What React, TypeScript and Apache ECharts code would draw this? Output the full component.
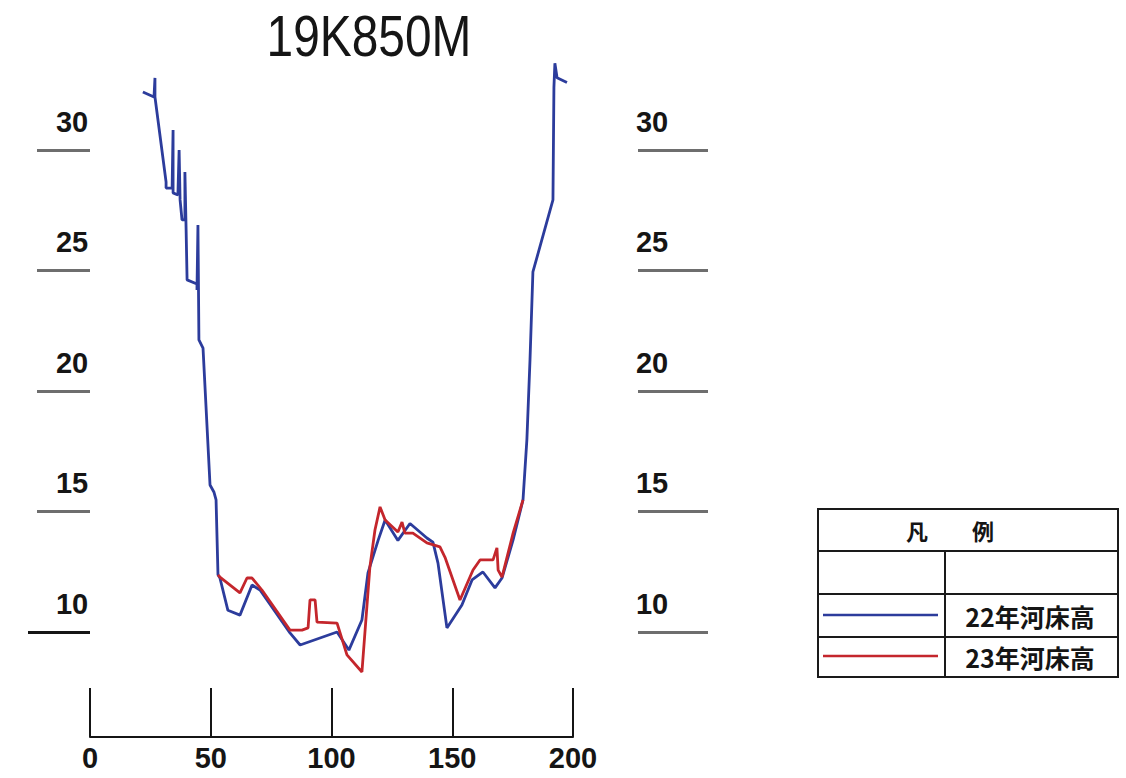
import React, { useEffect, useRef } from "react";
import * as echarts from "echarts";

// ---- data ----
const chartTitle = "19K850M";
const legendHeader = "凡　　例";
const seriesNames = ["22年河床高", "23年河床高"];
const yTickValues = [10, 15, 20, 25, 30];

// 22年河床高 (distance m, elevation m)
const blueX = [
  21.9, 26.5, 26.9, 26.9, 31.5, 31.5, 34.0, 34.4, 34.4, 36.4, 36.9, 37.3, 38.1, 39.3, 39.3, 39.8,
  40.2, 44.3, 44.3, 44.7, 45.1, 46.8, 49.7, 51.3, 52.2, 53.0, 53.8, 57.1, 62.1, 67.1, 70.4, 82.8,
  87.0, 102.3, 107.2, 112.6, 115.1, 119.3, 122.2, 127.5, 132.5, 139.5, 142.0, 144.1, 147.8, 154.0,
  158.2, 162.7, 167.7, 170.6, 175.2, 179.3, 180.9, 182.2, 183.4, 191.7, 192.1, 192.5, 193.4, 197.5,
];
const blueY = [
  32.41, 32.2, 32.99, 32.2, 28.67, 28.42, 28.42, 30.83, 28.22, 28.13, 30.0, 27.93, 27.1, 27.1, 29.09, 26.68,
  24.61, 24.44, 24.19, 26.89, 22.12, 21.78, 16.1, 15.81, 15.48, 12.37, 12.24, 10.9, 10.7, 11.95, 11.74, 9.96,
  9.46, 10.0, 9.25, 10.5, 12.45, 13.8, 14.65, 13.8, 14.5, 13.9, 13.73, 12.86, 10.17, 11.12,
  12.16, 12.49, 11.83, 12.24, 13.82, 15.48, 17.97, 21.3, 24.94, 27.93, 32.6, 33.6, 33.0, 32.8,
];

// 23年河床高
const redX = [
  53.0, 53.8, 62.1, 65.0, 67.1, 71.2, 82.8, 87.8, 90.3, 91.1, 93.2, 94.0, 102.3, 106.4, 112.6, 115.9,
  118.0, 120.1, 122.2, 127.5, 129.2, 130.4, 133.7, 139.5, 144.9, 147.0, 153.2, 158.6, 161.5, 166.9,
  168.5, 169.0, 170.6, 175.2, 179.3,
];
const redY = [
  12.37, 12.28, 11.62, 12.24, 12.24, 11.74, 10.08, 10.08, 10.17, 11.33, 11.33, 10.41, 10.37, 9.05, 8.34, 12.7,
  14.23, 15.19, 14.65, 14.15, 14.56, 14.1, 14.1, 13.7, 13.53, 13.1, 11.33, 12.57, 12.99, 12.99,
  13.49, 12.57, 12.28, 14.1, 15.48,
];

const BLUE = "#2c3c9c";
const RED = "#c4262c";
const SANS = "'Liberation Sans', Arial, sans-serif";
const CJK = "'Noto Sans CJK JP', 'Noto Sans CJK SC', sans-serif";

const zip = (xs: number[], ys: number[]) => xs.map((x, i) => [x, ys[i]]);

export default function App() {
  const ref = useRef<HTMLDivElement>(null);

  useEffect(() => {
    if (!ref.current) return;
    const chart = echarts.init(ref.current, null, { renderer: "svg" });

    const yLabelBase = {
      customValues: yTickValues,
      align: "center" as const,
      verticalAlign: "bottom" as const,
      padding: [0, 0, 14, 0],
      fontSize: 29,
      fontFamily: SANS,
      fontWeight: "bold" as const,
      color: "#151515",
    };

    const tableLeft = 818;
    const tableTop = 509;
    const tableW = 300;
    const tableH = 168;
    const rowBottoms = [551, 594, 637];
    const divX = 945;

    chart.setOption({
      animation: false,
      backgroundColor: "#ffffff",
      grid: [
        { left: 90, width: 483, top: 29.5, height: 723 },
        { left: 90, width: 483, top: 688, height: 49 },
      ],
      xAxis: [
        { gridIndex: 0, type: "value", min: 0, max: 200, show: false },
        {
          gridIndex: 1,
          type: "value",
          min: 0,
          max: 200,
          interval: 50,
          axisLine: { show: true, lineStyle: { color: "#151515", width: 2 } },
          axisTick: { show: true, inside: true, length: 49, lineStyle: { color: "#151515", width: 2 } },
          axisLabel: { margin: 6, fontSize: 29, fontFamily: SANS, fontWeight: "bold", color: "#151515" },
          splitLine: { show: false },
        },
      ],
      yAxis: [
        {
          gridIndex: 0,
          type: "value",
          min: 5,
          max: 35,
          position: "left",
          axisLine: { show: false },
          splitLine: { show: false },
          axisTick: { show: true, customValues: yTickValues, length: 53, lineStyle: { color: "#6e6e6e", width: 3 } },
          axisLabel: { ...yLabelBase, margin: 18 },
        },
        {
          gridIndex: 0,
          type: "value",
          min: 5,
          max: 35,
          position: "right",
          offset: 65,
          axisLine: { show: false },
          splitLine: { show: false },
          axisTick: { show: true, customValues: yTickValues, length: 70, lineStyle: { color: "#6e6e6e", width: 3 } },
          axisLabel: { ...yLabelBase, margin: 14 },
        },
        {
          gridIndex: 0,
          type: "value",
          min: 5,
          max: 35,
          position: "left",
          axisLine: { show: false },
          splitLine: { show: false },
          axisTick: { show: true, customValues: [10], length: 62, lineStyle: { color: "#151515", width: 3 } },
          axisLabel: { show: false },
        },
        { gridIndex: 1, type: "value", min: 0, max: 1, show: false },
      ],
      series: [
        {
          name: seriesNames[0],
          type: "line",
          xAxisIndex: 0,
          yAxisIndex: 0,
          data: zip(blueX, blueY),
          showSymbol: false,
          symbol: "none",
          lineStyle: { color: BLUE, width: 2.8 },
          z: 2,
        },
        {
          name: seriesNames[1],
          type: "line",
          xAxisIndex: 0,
          yAxisIndex: 0,
          data: zip(redX, redY),
          showSymbol: false,
          symbol: "none",
          lineStyle: { color: RED, width: 2.8 },
          z: 3,
        },
      ],
      graphic: [
        {
          type: "text",
          x: 369,
          y: 36,
          scaleX: 0.84,
          style: {
            text: chartTitle,
            fontSize: 57,
            fontFamily: SANS,
            fill: "#151515",
            align: "center",
            verticalAlign: "middle",
          },
        },
        {
          type: "rect",
          shape: { x: tableLeft, y: tableTop, width: tableW, height: tableH },
          style: { fill: "#ffffff", stroke: "#1a1a1a", lineWidth: 2 },
        },
        ...rowBottoms.map((y) => ({
          type: "line",
          shape: { x1: tableLeft, y1: y, x2: tableLeft + tableW, y2: y },
          style: { stroke: "#1a1a1a", lineWidth: 2 },
        })),
        {
          type: "line",
          shape: { x1: divX, y1: rowBottoms[0], x2: divX, y2: tableTop + tableH },
          style: { stroke: "#1a1a1a", lineWidth: 2 },
        },
        {
          type: "text",
          x: 950,
          y: (tableTop + rowBottoms[0]) / 2,
          style: {
            text: legendHeader,
            fontSize: 22,
            fontWeight: "bold",
            fontFamily: CJK,
            fill: "#151515",
            align: "center",
            verticalAlign: "middle",
          },
        },
        {
          type: "line",
          shape: { x1: 823, y1: 615, x2: 938, y2: 615 },
          style: { stroke: BLUE, lineWidth: 2.5 },
        },
        {
          type: "line",
          shape: { x1: 823, y1: 656, x2: 938, y2: 656 },
          style: { stroke: RED, lineWidth: 2.5 },
        },
        {
          type: "text",
          x: 1030,
          y: (rowBottoms[1] + rowBottoms[2]) / 2,
          style: {
            text: seriesNames[0],
            fontSize: 25,
            fontWeight: "bold",
            fontFamily: CJK,
            fill: "#151515",
            align: "center",
            verticalAlign: "middle",
          },
        },
        {
          type: "text",
          x: 1030,
          y: (rowBottoms[2] + tableTop + tableH) / 2,
          style: {
            text: seriesNames[1],
            fontSize: 25,
            fontWeight: "bold",
            fontFamily: CJK,
            fill: "#151515",
            align: "center",
            verticalAlign: "middle",
          },
        },
      ],
    });

    return () => chart.dispose();
  }, []);

  return (
    <div
      ref={ref}
      style={{ position: "fixed", left: 0, top: 0, width: 1126, height: 778, background: "#ffffff" }}
    />
  );
}
